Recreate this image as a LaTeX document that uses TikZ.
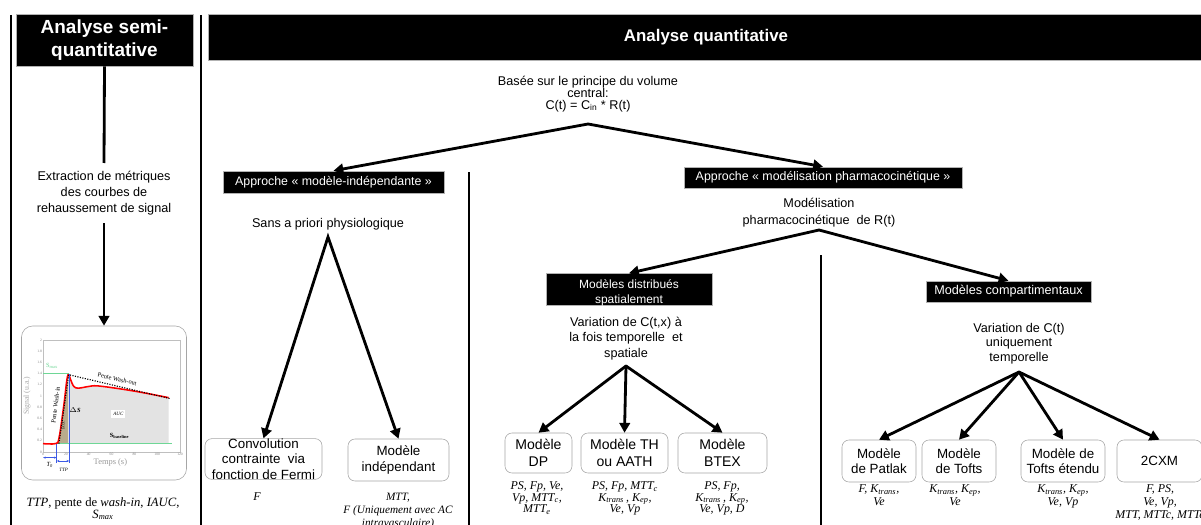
\documentclass[tikz,border=0pt]{standalone}
\usepackage{fontspec}
\setmainfont{Liberation Sans}
\newfontfamily\paramfont{Liberation Serif}
\usetikzlibrary{arrows.meta, positioning}
\definecolor{chartgreen}{RGB}{110,215,150}
\definecolor{chartblue}{RGB}{60,90,230}
\definecolor{charttan}{RGB}{185,172,140}
\newcommand{\ix}[1]{\textsubscript{#1}}
\newcommand{\fs}[2]{\fontsize{#1}{#2}\selectfont}
\lineskiplimit=-100pt
\tikzset{
	headbox/.style={
			draw=gray!60,
			fill=black,
			text=white,
			inner sep=0pt,
			align=center
		},
	modelbox/.style={
			draw=gray!70,
			fill=white,
			rounded corners=5pt,
			inner sep=0pt,
			align=center,
			font=\fs{9.5}{11}
		},
	desctext/.style={
			align=center,
			inner xsep=0pt
		},
	paramtext/.style={
			align=center,
			inner sep=0pt,
			font=\paramfont\itshape\fs{8.5}{8.2}
		},
	link/.style={
			line width=2pt
		},
	panelline/.style={
			line width=1.4pt
		},
	ticklabel/.style={
			font=\paramfont\fs{2.6}{3},
			text=gray,
			inner sep=0.6pt
		}
}

\begin{document}
\begin{tikzpicture}[x=0.025cm, y=-0.025cm, >={Triangle[length=7pt, width=7.5pt]}]
    \useasboundingbox (0,0) rectangle (1201,525);

    % panel borders
    \draw[panelline] (11,15) -- (11,525);
    \draw[panelline] (201,15) -- (201,525);
    \draw[panelline] (469,172) -- (469,525);
    \draw[panelline] (821,255) -- (821,525);

    % semi-quantitative column
    \node[headbox, minimum width=4.425cm, minimum height=1.3cm, font=\bfseries\fs{13.5}{16}] (semi) at (104.5,40) {\rule[-3pt]{0pt}{0pt}Analyse semi-\\quantitative\rule[-3pt]{0pt}{3pt}};
    \node[desctext, anchor=north, inner ysep=0.2cm, font=\fs{9}{11.3}] (extract) at (104,163) {Extraction de métriques\\des courbes de\\rehaussement de signal};
    \node[modelbox, rounded corners=8pt, minimum width=4.125cm, minimum height=3.85cm] (chart) at (104,403) {};
    \node[paramtext, anchor=north, font=\paramfont\fs{9}{8.5}] (metrics) at (103,497) {\textit{TTP}, pente de \textit{wash-in}, \textit{IAUC},\\\textit{S\ix{max}}};

    \draw[link] (semi.south) -- (extract.north);
    \draw[link, ->] (extract.south) -- (chart.north);

    % signal curve
    \begin{scope}[shift={(43,452)}, x=0.02855cm, y=1.4cm]
        \fill[charttan] (14,0.15) -- (22,1.36) -- (22,0.15) -- cycle;
        \fill[gray!22] (22,0.15) -- plot[smooth, tension=0.6] coordinates {(22,1.36) (24,1.3) (27,1.17) (31,1.14) (40,1.17) (48,1.18) (70,1.12) (90,1.05) (110,0.97)} -- (110,0.15) -- cycle;
        \draw[gray!50, line width=0.3pt] (0,0) rectangle (120,2);
        \foreach \v in {0,0.2,0.4,0.6,0.8,1,1.2,1.4,1.6,1.8,2}
            \node[ticklabel, anchor=east] at (0,\v) {\v};
        \foreach \t in {0,20,40,60,80,100,120}
            \node[ticklabel, anchor=north] at (\t,0) {\t};
        \node[font=\paramfont\fs{5.5}{6}, text=gray!70, rotate=90] at (-14,1) {Signal (u.a.)};
        \node[font=\paramfont\fs{6}{7}, text=gray!80] at (59,-0.19) {Temps (s)};
        \draw[chartgreen, line width=0.6pt] (0,1.4) -- (23,1.4);
        \draw[chartgreen, line width=0.6pt] (0,0.15) -- (113,0.15);
        \draw[red, line width=1.1pt] plot[smooth, tension=0.6] coordinates {(0,0.15) (11,0.15) (14,0.25) (18,0.8) (21,1.3) (22.5,1.38) (24,1.3) (27,1.17) (31,1.14) (40,1.17) (48,1.18) (70,1.12) (90,1.05) (110,0.97)};
        \draw[densely dotted, line width=0.8pt] (14,0.15) -- (22.5,1.38) -- (112,0.95);
        \draw[chartblue, line width=0.5pt] (12,0.15) -- (12,-0.2);
        \draw[chartblue, line width=0.5pt] (23,1.4) -- (23,-0.2);
        \draw[chartblue, line width=0.6pt, {Stealth[length=2pt]}-{Stealth[length=2pt]}] (0,-0.1) -- (12,-0.1);
        \draw[chartblue, line width=0.6pt, {Stealth[length=2pt]}-{Stealth[length=2pt]}] (12,-0.16) -- (23,-0.16);
        \node[font=\paramfont\itshape\fs{4.5}{5}] at (6,-0.23) {T\ix{0}};
        \node[font=\paramfont\itshape\fs{3.5}{4}] at (18,-0.32) {TTP};
        \node[font=\paramfont\fs{4.5}{5}, text=chartgreen] at (8,1.54) {S\ix{max}};
        \node[font=\paramfont\fs{4.5}{5}, rotate=83] at (11,0.84) {Pente Wash-in};
        \node[font=\paramfont\fs{4.5}{5}, rotate=-12.7] at (65,1.3) {Pente Wash-out};
        \node[font=\paramfont\itshape\bfseries\fs{4.5}{5}] at (28,0.75) {$\Delta$S};
        \node[font=\paramfont\itshape\fs{3.5}{4}, fill=white, inner sep=1.5pt] at (66,0.68) {AUC};
        \node[font=\paramfont\fs{2.5}{3}, rotate=90] at (18,0.48) {IAUC};
        \node[font=\paramfont\bfseries\fs{4.5}{5}] at (67,0.29) {S\ix{baseline}};
    \end{scope}

    % quantitative column
    \node[headbox, minimum width=24.9cm, minimum height=1.15cm, font=\bfseries\fs{12}{14}] (quant) at (706,37) {Analyse quantitative};
    \node[desctext, anchor=south, inner ysep=0.3cm, font=\fs{9}{8.4}] (central) at (588,124) {Basée sur le principe du volume\\central:\\C(t) = C\ix{in} * R(t)};

    \node[headbox, minimum width=5.525cm, minimum height=0.55cm, font=\fs{8.8}{11}] (indepapp) at (333.5,182) {Approche~« modèle-indépendante~»};
    \node[headbox, minimum width=6.95cm, minimum height=0.525cm, font=\fs{8.8}{11}] (pkapp) at (823,177.5) {Approche~« modélisation pharmacocinétique~»};
    \draw[link, <->] (indepapp.north) -- (central.south) -- (pkapp.north);

    % model-independent approach
    \node[desctext, anchor=south, inner ysep=0.175cm, font=\fs{9}{11}] (noprior) at (328,237) {Sans a priori physiologique};
    \node[modelbox, minimum width=2.925cm, minimum height=1cm] (fermi) at (263.5,459) {Convolution\\contrainte~ via\\fonction de Fermi};
    \node[modelbox, minimum width=2.525cm, minimum height=1.05cm] (indepmodel) at (398.5,460) {Modèle\\indépendant};
    \draw[link, <->] (fermi.north) -- (noprior.south) -- (indepmodel.north);

    \node[paramtext] (fermiparam) at (257,497) {F};
    \node[paramtext, anchor=north, font=\paramfont\itshape\fs{8}{9.2}] (indepparam) at (398,492.5) {MTT,\\F (Uniquement avec AC\\intravasculaire)};

    % pharmacokinetic approach
    \node[desctext, anchor=south, inner ysep=0.075cm, font=\fs{9}{12}] (pkmodel) at (819,230) {Modélisation\\pharmacocinétique~ de R(t)};
    \node[headbox, minimum width=4.15cm, minimum height=0.725cm, font=\fs{8.5}{10}] (distrib) at (629,289.5) {\rule{0pt}{11pt}Modèles distribués\\spatialement};
    \node[headbox, minimum width=4.125cm, minimum height=0.525cm, font=\fs{9}{11}] (compart) at (1008.5,291.5) {Modèles compartimentaux};
    \draw[link, <->] (distrib.north) -- (pkmodel.south) -- (compart.north);

    % spatially distributed models
    \node[desctext, anchor=south, inner ysep=0.15cm, font=\fs{9}{11}] (spacetime) at (626,366) {Variation de C(t,x) à\\la fois temporelle~ et\\spatiale};
    \node[modelbox, minimum width=1.675cm, minimum height=1cm, font=\fs{10}{12}] (dp) at (538.5,453) {Modèle\\DP};
    \node[modelbox, minimum width=2.175cm, minimum height=1cm, font=\fs{10}{12}] (th) at (624.5,453) {Modèle TH\\ou AATH};
    \node[modelbox, minimum width=2.225cm, minimum height=1cm, font=\fs{10}{12}] (btex) at (722.5,453) {Modèle\\BTEX};
    \foreach \m in {dp, th, btex}
        \draw[link, line cap=round, ->] (spacetime.south) -- (\m.north);

    \node[paramtext, anchor=north] (dpparam) at (537,481.5) {PS, Fp, Ve,\\Vp, MTT\ix{c},\\MTT\ix{e}};
    \node[paramtext, anchor=north] (thparam) at (625,481.5) {PS, Fp, MTT\ix{c}\\K\ix{trans}\,, K\ix{ep},\\Ve, Vp};
    \node[paramtext, anchor=north] (btexparam) at (722,481.5) {PS, Fp,\\K\ix{trans}\,, K\ix{ep},\\Ve, Vp, D};

    % compartmental models
    \node[desctext, anchor=south, inner ysep=0.2cm, font=\fs{9}{10.3}] (timeonly) at (1019,372) {Variation de C(t)\\uniquement\\temporelle};
    \node[modelbox, minimum width=1.85cm, minimum height=1.05cm] (patlak) at (879,461) {Modèle\\de Patlak};
    \node[modelbox, minimum width=1.85cm, minimum height=1.05cm] (tofts) at (959,461) {Modèle\\de Tofts};
    \node[modelbox, minimum width=2.1cm, minimum height=1.05cm] (etofts) at (1063,461) {Modèle de\\Tofts étendu};
    \node[modelbox, minimum width=2.125cm, minimum height=1.05cm] (cxm) at (1159.5,461) {2CXM};
    \foreach \m in {patlak, tofts, etofts, cxm}
        \draw[link, line cap=round, ->] (timeonly.south) -- (\m.north);

    \node[paramtext, anchor=north, font=\paramfont\itshape\fs{8.5}{9.2}] (patlakparam) at (879,484.5) {F, K\ix{trans},\\Ve};
    \node[paramtext, anchor=north, font=\paramfont\itshape\fs{8.5}{9.2}] (toftsparam) at (955,484.5) {K\ix{trans}, K\ix{ep},\\Ve};
    \node[paramtext, anchor=north, font=\paramfont\itshape\fs{8.5}{9.2}] (etoftsparam) at (1063,484.5) {K\ix{trans}, K\ix{ep},\\Ve, Vp};
    \node[paramtext, anchor=north, font=\paramfont\itshape\fs{8.5}{9.2}] (cxmparam) at (1160,484.5) {F, PS,\\Ve, Vp,\\MTT, MTTc, MTTe};
\end{tikzpicture}
\end{document}
